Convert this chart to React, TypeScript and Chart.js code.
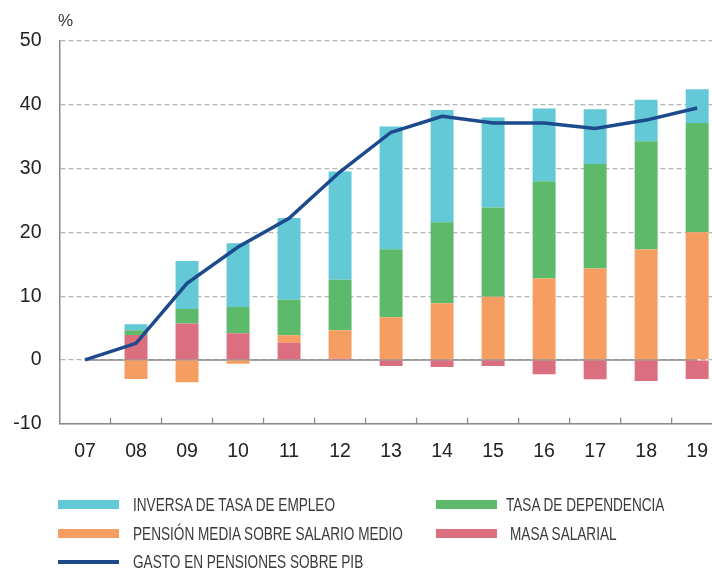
import React, { useEffect, useRef } from "react";
import { Chart, registerables } from "chart.js";

Chart.register(...registerables);

const categories = ["07", "08", "09", "10", "11", "12", "13", "14", "15", "16", "17", "18", "19"];
const masaSalarial = [null, 3.9, 5.7, 4.2, 2.7, 0.2, -0.95, -1.1, -0.95, -2.25, -3.05, -3.3, -3.0];
const pensionMedia = [null, -3.0, -3.5, -0.6, 1.15, 4.45, 6.7, 8.9, 9.9, 12.75, 14.35, 17.3, 20.0];
const tasaDependencia = [null, 0.75, 2.3, 4.1, 5.6, 7.9, 10.65, 12.7, 14.0, 15.25, 16.35, 17.0, 17.15];
const inversaEmpleo = [null, 0.95, 7.5, 10.0, 12.8, 17.0, 19.25, 17.6, 14.1, 11.4, 8.6, 6.5, 5.3];
const gastoPensiones = [0, 2.6, 12.0, 17.7, 22.2, 29.5, 35.7, 38.2, 37.15, 37.15, 36.3, 37.6, 39.5];

const COLORS = {
  cyan: "#63C9D6",
  green: "#5DBA6A",
  orange: "#F69D62",
  pink: "#DB6E7F",
  navy: "#1D4A8D",
  axis: "#8a8a8a",
  grid: "#b5b5b5",
  text: "#222222",
};

const FONT = '"Liberation Sans", Arial, Helvetica, sans-serif';

const decorations = {
  id: "decorations",
  beforeDatasetsDraw(chart: any) {
    const { ctx, scales } = chart;
    const x = scales.x;
    const y = scales.y;
    const y0 = y.getPixelForValue(0);
    ctx.save();
    ctx.strokeStyle = COLORS.axis;
    ctx.lineWidth = 1.5;
    ctx.beginPath();
    ctx.moveTo(x.getPixelForValue(0), y0);
    ctx.lineTo(x.getPixelForValue(categories.length - 1), y0);
    ctx.stroke();
    ctx.restore();
  },
  afterDraw(chart: any) {
    const { ctx, scales, chartArea } = chart;
    const x = scales.x;
    ctx.save();
    ctx.strokeStyle = COLORS.axis;
    ctx.lineWidth = 1.3;
    for (let i = 0; i < categories.length - 1; i++) {
      const px = (x.getPixelForValue(i) + x.getPixelForValue(i + 1)) / 2;
      ctx.beginPath();
      ctx.moveTo(px, chartArea.bottom);
      ctx.lineTo(px, chartArea.bottom - 6);
      ctx.stroke();
    }
    ctx.fillStyle = "#333";
    ctx.font = `17px ${FONT}`;
    ctx.textBaseline = "middle";
    ctx.textAlign = "left";
    ctx.fillText("%", chartArea.left - 1.5, 21.5);
    ctx.restore();
  },
};

const legendRows = [
  { label: "INVERSA DE TASA DE EMPLEO", color: COLORS.cyan, x: 58, tx: 133, y: 504.5, h: 9 },
  { label: "TASA DE DEPENDENCIA", color: COLORS.green, x: 436, tx: 506, y: 504.5, h: 9 },
  { label: "PENSIÓN MEDIA SOBRE SALARIO MEDIO", color: COLORS.orange, x: 58, tx: 133, y: 533.5, h: 9 },
  { label: "MASA SALARIAL", color: COLORS.pink, x: 436, tx: 510, y: 533.5, h: 9 },
  { label: "GASTO EN PENSIONES SOBRE PIB", color: COLORS.navy, x: 58, tx: 133, y: 561.5, h: 4 },
];

export default function App() {
  const canvasRef = useRef<HTMLCanvasElement | null>(null);

  useEffect(() => {
    if (!canvasRef.current) return;
    const chart = new Chart(canvasRef.current, {
      type: "bar",
      data: {
        labels: categories,
        datasets: [
          {
            type: "line",
            label: "GASTO EN PENSIONES SOBRE PIB",
            data: gastoPensiones,
            borderColor: COLORS.navy,
            backgroundColor: COLORS.navy,
            borderWidth: 3.5,
            pointRadius: 0,
            tension: 0,
            stack: "gasto",
            order: 0,
          } as any,
          {
            label: "MASA SALARIAL",
            data: masaSalarial,
            backgroundColor: COLORS.pink,
            stack: "bars",
            order: 1,
          },
          {
            label: "PENSIÓN MEDIA SOBRE SALARIO MEDIO",
            data: pensionMedia,
            backgroundColor: COLORS.orange,
            stack: "bars",
            order: 1,
          },
          {
            label: "TASA DE DEPENDENCIA",
            data: tasaDependencia,
            backgroundColor: COLORS.green,
            stack: "bars",
            order: 1,
          },
          {
            label: "INVERSA DE TASA DE EMPLEO",
            data: inversaEmpleo,
            backgroundColor: COLORS.cyan,
            stack: "bars",
            order: 1,
          },
        ],
      },
      options: {
        responsive: false,
        animation: false,
        datasets: {
          bar: { barPercentage: 0.45, categoryPercentage: 1, borderWidth: 0 },
        },
        layout: { padding: { top: 41, left: 0, right: 0, bottom: 0 } },
        plugins: {
          legend: { display: false },
          tooltip: { enabled: false },
          title: { display: false },
        },
        scales: {
          x: {
            stacked: true,
            offset: true,
            grid: { display: false, drawTicks: false, tickLength: 0 },
            border: { display: true, color: COLORS.axis, width: 1.5 },
            ticks: {
              color: COLORS.text,
              font: { family: FONT, size: 19.5 },
              padding: 16,
              maxRotation: 0,
              autoSkip: false,
            },
            afterFit(scale: any) {
              scale.height = 568 - 423.7;
            },
          },
          y: {
            stacked: true,
            min: -10,
            max: 50,
            grid: {
              color: COLORS.grid,
              lineWidth: 1.2,
              drawTicks: false,
              tickLength: 0,
            },
            border: { display: true, color: COLORS.axis, width: 1.5, dash: [5, 3] },
            ticks: {
              stepSize: 10,
              color: COLORS.text,
              font: { family: FONT, size: 19.5 },
              padding: 18,
            },
            afterFit(scale: any) {
              scale.width = 59.5;
            },
          },
        },
      },
      plugins: [decorations],
    });
    return () => chart.destroy();
  }, []);

  return (
    <div
      style={{
        position: "absolute",
        left: 0,
        top: 0,
        width: 712,
        height: 568,
        overflow: "hidden",
        background: "#fff",
      }}
    >
      <canvas
        ref={canvasRef}
        width={724}
        height={568}
        style={{ position: "absolute", left: 0, top: 0, width: 724, height: 568 }}
      />
      {legendRows.map((r) => (
        <React.Fragment key={r.label}>
          <div
            style={{
              position: "absolute",
              left: r.x,
              top: r.y - r.h / 2,
              width: 61,
              height: r.h,
              background: r.color,
            }}
          />
          <div
            style={{
              position: "absolute",
              left: r.tx,
              top: r.y - 11,
              height: 22,
              lineHeight: "22px",
              fontFamily: FONT,
              fontSize: 18.5,
              color: "#3a3a3a",
              whiteSpace: "nowrap",
              transform: "scaleX(0.735)",
              transformOrigin: "left center",
            }}
          >
            {r.label}
          </div>
        </React.Fragment>
      ))}
    </div>
  );
}
